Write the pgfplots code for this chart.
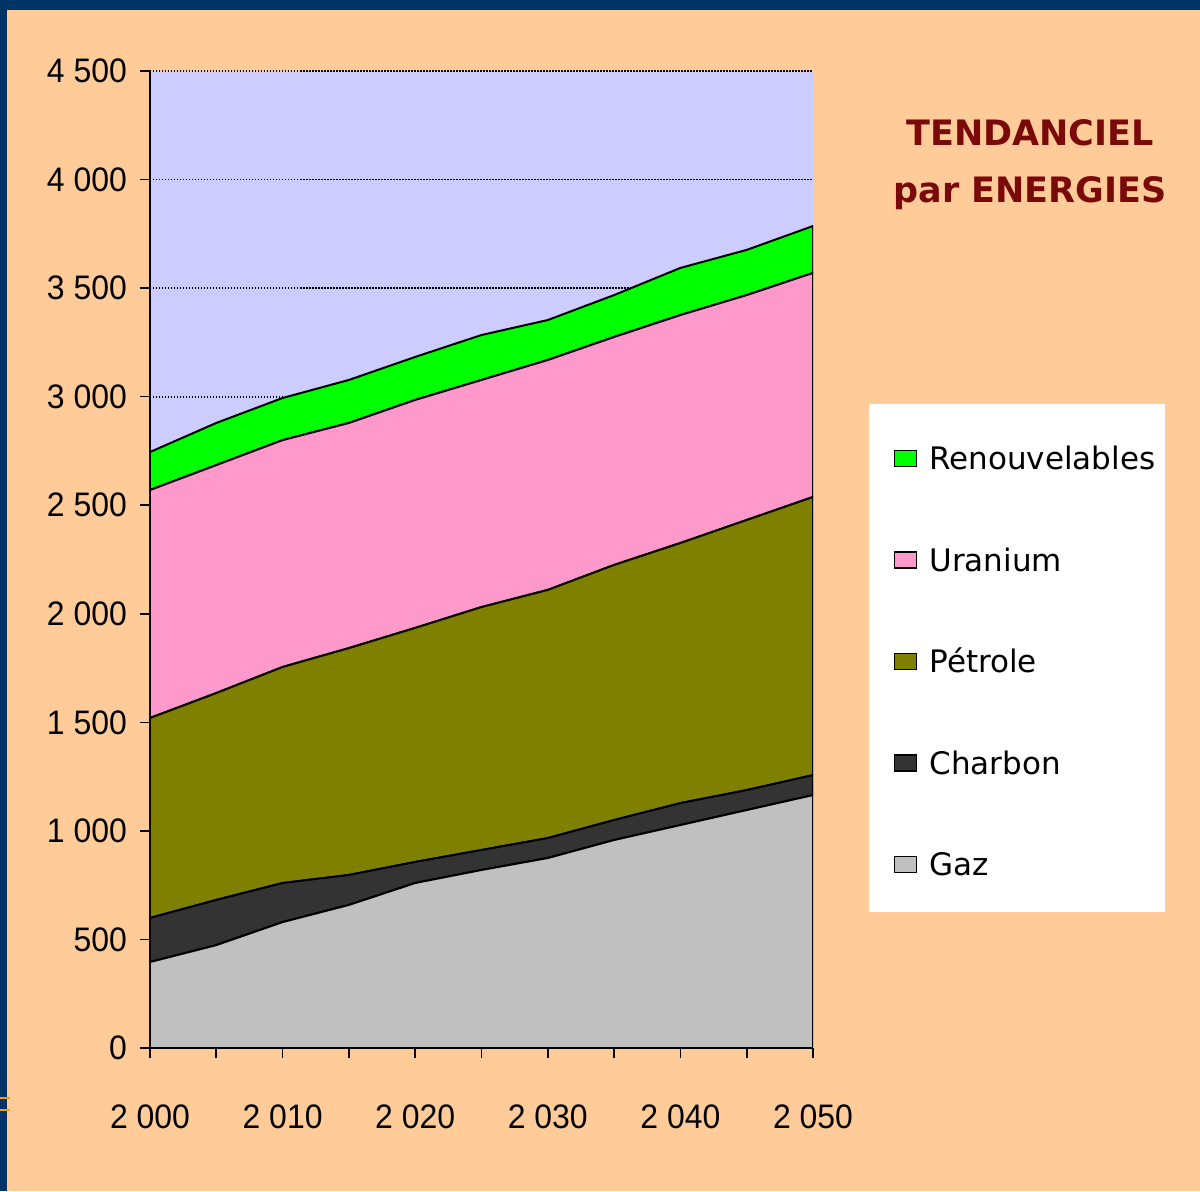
\documentclass[border=0pt]{standalone}
\usepackage{pgfplots}
\pgfplotsset{compat=1.18}
\usepackage{fontspec}
\setmainfont{Liberation Sans}
\newfontfamily\tickfont[FakeStretch=0.94]{Liberation Sans}
\newfontfamily\dejavu{DejaVu Sans}
\definecolor{peach}{HTML}{FFCC99}
\definecolor{navy}{HTML}{003366}
\definecolor{lavender}{HTML}{CCCCFF}
\definecolor{renc}{HTML}{00FF00}
\definecolor{uranc}{HTML}{FF99CC}
\definecolor{petc}{HTML}{808000}
\definecolor{charc}{HTML}{333333}
\definecolor{gazc}{HTML}{C0C0C0}
\definecolor{titc}{HTML}{7A0A0A}
\definecolor{orangec}{HTML}{FF9900}
\begin{document}
\begin{tikzpicture}
\path[use as bounding box, fill=peach] (-75pt,-71.5pt) rectangle (525pt,524pt);
\fill[navy] (-75pt,519pt) rectangle (525pt,524pt);
\fill[navy] (-75pt,-71.5pt) rectangle (-71.5pt,524pt);
\draw[orangec, line width=1pt] (-75pt,-25pt) -- (-70pt,-25pt);
\draw[orangec, line width=1pt] (-75pt,-31pt) -- (-70pt,-31pt);
\begin{axis}[
  at={(0pt,0pt)}, anchor=south west, scale only axis,
  width=331.5pt, height=488.5pt,
  xmin=2000, xmax=2050, ymin=0, ymax=4500,
  axis on top=false,
  axis x line*=bottom, axis y line*=left,
  axis line style={black, line width=1pt, -},
  tick align=outside, major tick length=5pt,
  tick style={black, line width=0.8pt},
  xtick={2000,2005,...,2050},
  xticklabels={2 000,,2 010,,2 020,,2 030,,2 040,,2 050},
  ytick={0,500,...,4500},
  yticklabels={0,500,1 000,1 500,2 000,2 500,3 000,3 500,4 000,4 500},
  ymajorgrids, grid style={black, line width=0.9pt, dash pattern=on 0.75pt off 0.75pt},
  axis background/.style={fill=lavender},
  ticklabel style={font=\tickfont\fontsize{17}{17}\selectfont},
  xticklabel style={yshift=-20pt},
  yticklabel style={xshift=-3pt},
  stack plots=y,
  no markers,
  reverse legend,
  legend cell align=left,
  legend image code/.code={\draw[#1, draw=black, line width=0.8pt] (7pt,-6pt) rectangle (18pt,2pt); \path (0pt,0pt) (24pt,0pt);},
  legend style={at={(1.0845,0.660)}, anchor=north west, fill=white, draw=none,
    inner xsep=5pt, inner ysep=18pt, row sep=35.75pt,
    font=\dejavu\fontsize{15.5}{15.5}\selectfont,
    nodes={inner sep=0pt, text height=15pt, text depth=0pt}},
]
\addplot[fill=gazc, draw=black, line width=1pt] coordinates {
(2000,396) (2005,474) (2010,580) (2015,659) (2020,760) (2025,820) (2030,875) (2035,958) (2040,1027) (2045,1096) (2050,1165)} \closedcycle;
\addlegendentry{Gaz}
\addplot[fill=charc, draw=black, line width=1pt] coordinates {
(2000,203) (2005,208) (2010,180) (2015,138) (2020,97) (2025,92) (2030,92) (2035,92) (2040,101) (2045,92) (2050,92)} \closedcycle;
\addlegendentry{Charbon}
\addplot[fill=petc, draw=black, line width=1pt] coordinates {
(2000,921) (2005,953) (2010,995) (2015,1045) (2020,1078) (2025,1119) (2030,1143) (2035,1175) (2040,1198) (2045,1244) (2050,1281)} \closedcycle;
\addlegendentry{Pétrole}
\addplot[fill=uranc, draw=black, line width=1pt] coordinates {
(2000,1050) (2005,1050) (2010,1045) (2015,1037) (2020,1050) (2025,1046) (2030,1059) (2035,1050) (2040,1050) (2045,1036) (2050,1032)} \closedcycle;
\addlegendentry{Uranium}
\addplot[fill=renc, draw=black, line width=1pt] coordinates {
(2000,175) (2005,194) (2010,194) (2015,198) (2020,198) (2025,207) (2030,184) (2035,193) (2040,217) (2045,208) (2050,216)} \closedcycle;
\addlegendentry{Renouvelables}
\end{axis}
\node[anchor=base, text=titc, font=\dejavu\bfseries\fontsize{17.5}{17.5}\selectfont] at (440pt,451pt) {TENDANCIEL};
\node[anchor=base, text=titc, font=\dejavu\bfseries\fontsize{17.5}{17.5}\selectfont] at (440pt,422.5pt) {par ENERGIES};
\end{tikzpicture}
\end{document}
